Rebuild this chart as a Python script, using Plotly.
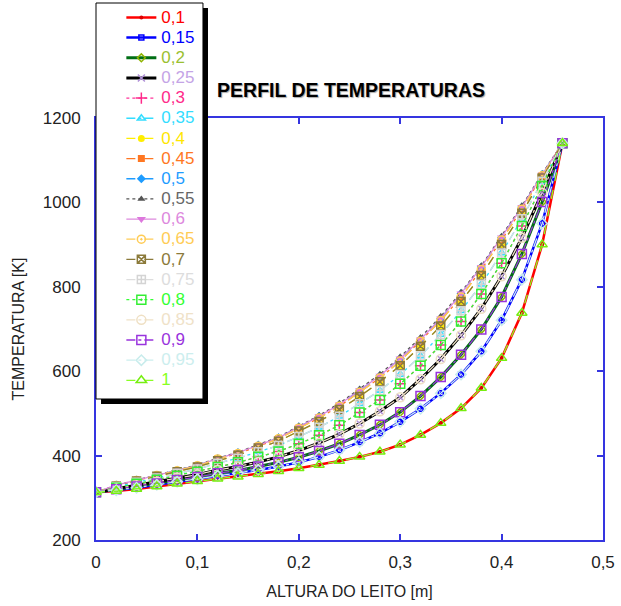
import plotly.graph_objects as go

# ---------------- data ----------------
altura = [0.00, 0.02, 0.04, 0.06, 0.08, 0.10, 0.12, 0.14, 0.16, 0.18, 0.20, 0.22,
          0.24, 0.26, 0.28, 0.30, 0.32, 0.34, 0.36, 0.38, 0.40, 0.42, 0.44, 0.46]

T_055 = [313, 330, 342, 354, 366, 378, 394, 408, 426, 444, 470, 495, 524, 558, 593, 634, 680, 730, 787, 850, 920, 992, 1068, 1140]
T_050_060 = [313, 330, 342, 353, 365, 377, 393, 407, 425, 442, 468, 493, 521, 555, 589, 630, 675, 725, 784, 847, 917, 989, 1066, 1140]
T_045_065 = [313, 329, 341, 353, 364, 376, 392, 405, 422, 440, 465, 489, 517, 550, 584, 624, 671, 720, 776, 841, 911, 984, 1063, 1140]
T_040_070 = [313, 328, 340, 351, 362, 373, 388, 401, 418, 434, 458, 481, 509, 540, 575, 613, 659, 707, 765, 827, 900, 974, 1058, 1140]
T_035_075 = [313, 327, 337, 347, 358, 368, 382, 394, 409, 424, 445, 467, 493, 523, 554, 592, 636, 687, 743, 806, 880, 961, 1050, 1140]
T_030_080 = [313, 324, 333, 343, 352, 362, 373, 384, 397, 410, 428, 448, 472, 502, 532, 570, 613, 662, 718, 783, 856, 944, 1039, 1140]
T_025_085 = [313, 322, 330, 338, 347, 355, 366, 374, 385, 397, 412, 430, 451, 476, 505, 538, 581, 629, 685, 748, 825, 916, 1023, 1140]
T_020_090 = [313, 320, 327, 334, 342, 349, 358, 365, 374, 384, 396, 411, 428, 449, 473, 503, 541, 586, 639, 699, 776, 878, 1001, 1140]
T_015_095 = [313, 318, 324, 331, 338, 344, 352, 358, 366, 374, 384, 397, 413, 432, 453, 480, 511, 548, 592, 647, 721, 817, 950, 1140]
T_010_100 = [313, 316, 321, 327, 333, 339, 345, 350, 356, 363, 370, 378, 387, 397, 409, 426, 449, 477, 512, 560, 631, 738, 900, 1140]

series_labels = ["0,1", "0,15", "0,2", "0,25", "0,3", "0,35", "0,4", "0,45", "0,5", "0,55",
                 "0,6", "0,65", "0,7", "0,75", "0,8", "0,85", "0,9", "0,95", "1"]
series_values = [T_010_100, T_015_095, T_020_090, T_025_085, T_030_080, T_035_075, T_040_070,
                 T_045_065, T_050_060, T_055, T_050_060, T_045_065, T_040_070, T_035_075,
                 T_030_080, T_025_085, T_020_090, T_015_095, T_010_100]

x_ticks = [0, 0.1, 0.2, 0.3, 0.4, 0.5]
x_ticktext = ["0", "0,1", "0,2", "0,3", "0,4", "0,5"]
y_ticks = [200, 400, 600, 800, 1000, 1200]

# ---------------- styles ----------------
# (line colour, line width, dash, marker symbol, marker colour, marker size, text colour)
styles = [
    ("#ff0000", 2.5, "solid", "circle", "#dd0000", 4, "#ff0000"),
    ("#0000ff", 2.5, "solid", "square-open", "#0000ff", 5, "#0000ff"),
    ("#006e14", 3, "solid", "diamond-open", "#8fb400", 6, "#9ac030"),
    ("#000000", 3, "solid", "x-thin-open", "#b090d8", 7, "#c4a4e6"),
    ("#ff3399", 1.3, "dot", "cross-thin-open", "#ff2a8a", 8, "#ff2a8a"),
    ("#33ddff", 1.3, "dashdot", "triangle-up-open", "#33ddff", 7, "#33ddff"),
    ("#ffee00", 1.3, "dash", "circle", "#ffee00", 7, "#ffe600"),
    ("#ff7722", 1.3, "dashdot", "square", "#ff7722", 7, "#ff7722"),
    ("#1e9cff", 1.3, "dash", "diamond", "#1e9cff", 7, "#1e9cff"),
    ("#555555", 1.3, "dot", "triangle-up", "#555555", 7, "#666666"),
    ("#dd88dd", 1.3, "solid", "triangle-down", "#dd77dd", 8, "#dd88dd"),
    ("#ffcc55", 1.3, "dash", "circle-open-dot", "#ffcc55", 8, "#ffcc55"),
    ("#8b7a3a", 1.3, "dash", "square-x-open", "#8b7a3a", 8, "#8b7a3a"),
    ("#dddddd", 1.3, "dash", "square-cross-open", "#d4d4d4", 8, "#dddddd"),
    ("#33ff33", 1.3, "dot", "square-open-dot", "#33ee33", 9, "#33ff33"),
    ("#efe2c8", 1.3, "dashdot", "circle-open", "#efe0c4", 9, "#efe2c8"),
    ("#9933dd", 1.3, "dashdot", "square-open", "#9933dd", 9, "#9933dd"),
    ("#cceeee", 1.3, "dashdot", "diamond-open", "#c8ecec", 8, "#cceeee"),
    ("#88ff22", 1.3, "dash", "triangle-up-open", "#77ee11", 9, "#88ff22"),
]

fig = go.Figure()
for label, vals, st in zip(series_labels, series_values, styles):
    lc, lw, dash, sym, mc, ms, tc = st
    is_open = "open" in sym
    fig.add_trace(go.Scatter(
        x=altura, y=vals, mode="lines+markers",
        name=f'<span style="color:{tc};font-size:17px">{label}</span>',
        line=dict(color=lc, width=lw, dash=dash),
        marker=dict(symbol=sym, size=ms, color=mc,
                    line=dict(color=mc, width=1.5 if is_open else 0)),
    ))

axis_blue = "#3535e0"

fig.update_layout(
    width=621, height=606, autosize=False,
    margin=dict(l=96, r=18, t=118, b=66, autoexpand=False),
    paper_bgcolor="white", plot_bgcolor="white",
    separators=",.",
    font=dict(family="Liberation Sans, Arial, sans-serif", color="#222222"),
    title=dict(text="<b>PERFIL DE TEMPERATURAS</b>", x=0.503, xref="paper",
               xanchor="center", y=1 - 90 / 606, yanchor="middle",
               font=dict(size=19.5, color="#000000", shadow="1px 1px 1px #aaaaaa")),
    showlegend=True,
    legend=dict(x=0.05, y=1.274, xanchor="left", yanchor="top",
                bgcolor="rgba(0,0,0,0)", borderwidth=0, maxheight=600,
                font=dict(size=13.2), traceorder="normal"),
    shapes=[
        dict(type="rect", xref="paper", yref="paper", layer="above",
             x0=0.0099, x1=0.2209, y0=0.3223, y1=1.2607,
             fillcolor="#000000", line=dict(width=0)),
        dict(type="rect", xref="paper", yref="paper", layer="above",
             x0=0.0, x1=0.211, y0=0.3341, y1=1.2725,
             fillcolor="#ffffff", line=dict(color="#000000", width=1)),
    ],
)

fig.update_xaxes(
    range=[0, 0.5], tickvals=x_ticks, ticktext=x_ticktext,
    showgrid=False, zeroline=False,
    showline=True, linecolor=axis_blue, linewidth=2, mirror="ticks",
    ticks="inside", ticklen=6, tickwidth=2, tickcolor=axis_blue,
    tickfont=dict(size=17, color="#222222"), ticklabelstandoff=6,
    title=dict(text="ALTURA DO LEITO [m]", font=dict(size=16, color="#222222"), standoff=14),
)
fig.update_yaxes(
    range=[200, 1200], tickvals=y_ticks,
    showgrid=False, zeroline=False,
    showline=True, linecolor=axis_blue, linewidth=2, mirror="ticks",
    ticks="inside", ticklen=6, tickwidth=2, tickcolor=axis_blue,
    tickfont=dict(size=17, color="#222222"), ticklabelstandoff=10,
    title=dict(text="TEMPERATURA [K]", font=dict(size=16, color="#222222"), standoff=14),
)

fig.write_html("out.html", config={"displayModeBar": False},
               post_script="document.body.style.margin='0';")
